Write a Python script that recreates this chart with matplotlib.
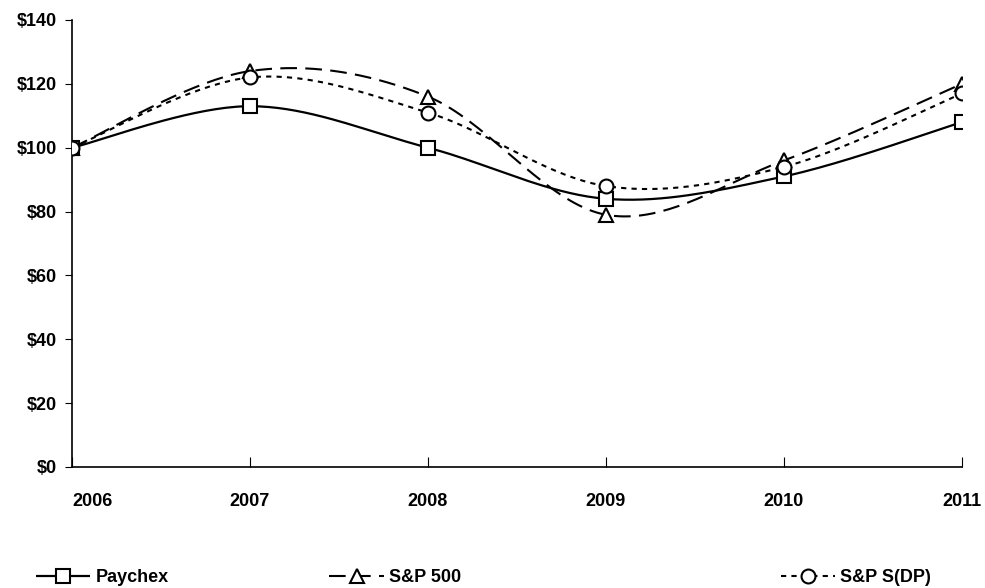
import numpy as np
import matplotlib
matplotlib.use("Agg")
import matplotlib.pyplot as plt
from matplotlib.lines import Line2D
from matplotlib import font_manager

# values
years = [2006, 2007, 2008, 2009, 2010, 2011]
paychex = [100, 113, 100, 84, 91, 108]
sp500 = [100, 124, 116, 79, 96, 120]
sp_dp = [100, 122, 111, 88, 94, 117]
yticks = [0, 20, 40, 60, 80, 100, 120, 140]


def smooth(xs, ys, n=40):
    # catmull-rom curve through the points, like Excel's smoothed line
    x = np.asarray(xs, float)
    y = np.asarray(ys, float)
    px = np.concatenate([[x[0]], x, [x[-1]]])
    py = np.concatenate([[y[0]], y, [y[-1]]])
    outx, outy = [], []
    t = np.linspace(0, 1, n)
    for i in range(1, len(px) - 2):
        for p, out in ((px, outx), (py, outy)):
            p0, p1, p2, p3 = p[i - 1], p[i], p[i + 1], p[i + 2]
            out.extend(0.5 * ((2 * p1) + (-p0 + p2) * t
                              + (2 * p0 - 5 * p1 + 4 * p2 - p3) * t ** 2
                              + (-p0 + 3 * p1 - 3 * p2 + p3) * t ** 3))
    return outx, outy


names = {f.name for f in font_manager.fontManager.ttflist}
narrow = "Liberation Sans Narrow" in names
if narrow:
    plt.rcParams['font.family'] = ['Liberation Sans Narrow', 'DejaVu Sans']
    fs = 14.5
else:
    plt.rcParams['font.family'] = ['Liberation Sans', 'DejaVu Sans']
    fs = 13
plt.rcParams['font.weight'] = 'bold'

fig = plt.figure(figsize=(9.85, 5.88), dpi=100)
ax = fig.add_axes([0.0731, 0.2058, 0.9035, 0.7602])

series = [
    ("Paychex", paychex, "s", (0, ()), 1.6),
    ("S&P 500", sp500, "^", (0, (8, 4)), 1.5),
    ("S&P S(DP)", sp_dp, "o", (0, (2.5, 2.5)), 1.5),
]

handles = []
for name, vals, mk, ls, lw in series:
    sx, sy = smooth(years, vals)
    ax.plot(sx, sy, color="black", linestyle=ls, linewidth=lw, zorder=2)
    ax.plot(years, vals, linestyle="none", marker=mk, markersize=10,
            markerfacecolor="white", markeredgecolor="black",
            markeredgewidth=1.5, zorder=3)
    handles.append(Line2D([0], [0], color="black", linestyle=ls, linewidth=lw,
                          marker=mk, markersize=10, markerfacecolor="white",
                          markeredgecolor="black", markeredgewidth=1.5))

ax.set_xlim(2006, 2011)
ax.set_ylim(0, 140)
ax.set_xticks(years)
ax.set_xticklabels([str(y) for y in years])
ax.set_yticks(yticks)
ax.set_yticklabels(["$%d" % v for v in yticks])
ax.tick_params(axis="x", direction="in", length=7, pad=19, labelsize=fs)
ax.tick_params(axis="y", direction="out", length=5, pad=6, labelsize=fs)
for lab in ax.get_xticklabels() + ax.get_yticklabels():
    lab.set_fontweight("bold")
xl = ax.get_xticklabels()
xl[0].set_horizontalalignment("left")
xl[0].set_x(2006.05)

ax.spines["top"].set_visible(False)
ax.spines["right"].set_visible(False)
ax.spines["left"].set_linewidth(1.2)
ax.spines["bottom"].set_linewidth(1.2)

# legend entries spread along the bottom
anchors = [0.02, 0.318, 0.776]
for h, (name, *_), xa in zip(handles, series, anchors):
    fig.legend([h], [name], loc="lower left", bbox_to_anchor=(xa, -0.025),
               frameon=False, handlelength=3.0, handletextpad=0.3,
               prop={"weight": "bold", "size": fs})

fig.savefig("out.png", dpi=100, facecolor="white")
